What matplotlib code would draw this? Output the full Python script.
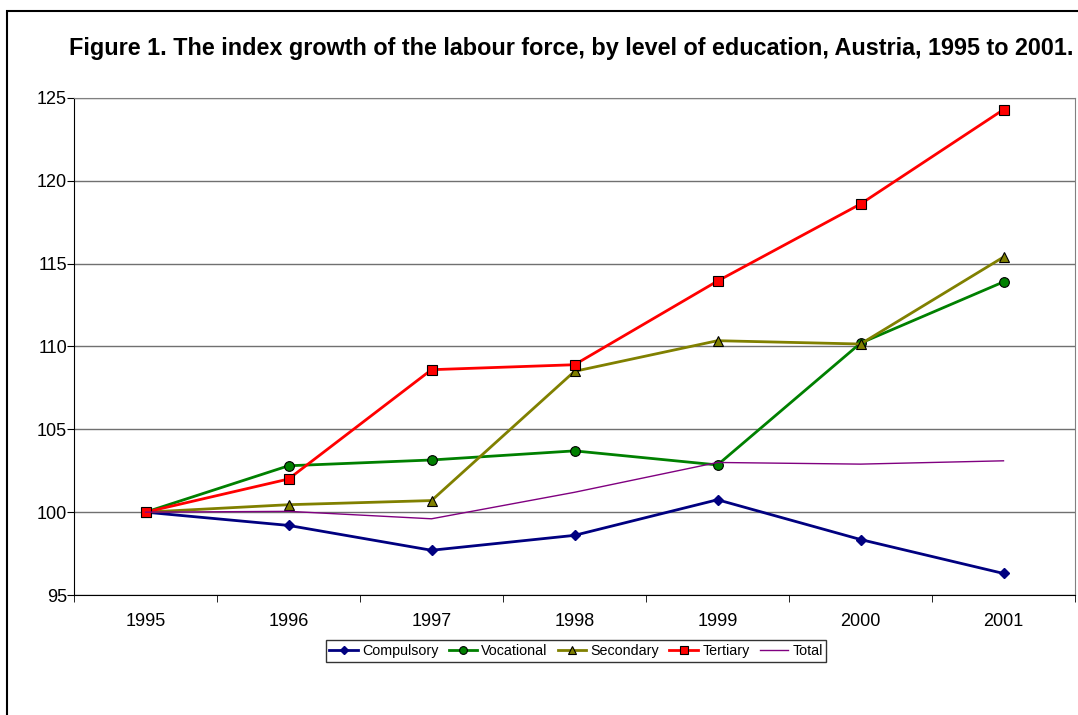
import numpy as np
import matplotlib.pyplot as plt
from matplotlib.patches import Rectangle

plt.rcParams['font.family'] = ['Liberation Sans', 'DejaVu Sans']

years = ['1995', '1996', '1997', '1998', '1999', '2000', '2001']
compulsory = [100.0, 99.2, 97.7, 98.6, 100.75, 98.35, 96.3]
vocational = [100.0, 102.8, 103.15, 103.7, 102.85, 110.2, 113.9]
secondary = [100.0, 100.45, 100.7, 108.5, 110.35, 110.15, 115.4]
tertiary = [100.0, 102.0, 108.6, 108.9, 113.95, 118.6, 124.3]
total = [100.0, 100.05, 99.6, 101.2, 103.0, 102.9, 103.1]

fig = plt.figure(figsize=(10.78, 7.15), dpi=100)
# outer chart frame
fig.add_artist(Rectangle((7 / 1078, -0.01), 1.1, 1 - 11 / 715 + 0.01,
                         transform=fig.transFigure, fill=False,
                         edgecolor='black', linewidth=1.5))

ax = fig.add_axes([74 / 1078, 1 - 595 / 715, 1001 / 1078, 497 / 715])
X = np.arange(len(years))

ax.plot(X, compulsory, color='#000080', lw=2, marker='D', ms=5,
        mfc='#000080', mec='#000080', label='Compulsory', zorder=3)
ax.plot(X, vocational, color='#008000', lw=2, marker='o', ms=7,
        mfc='#008000', mec='black', mew=0.8, label='Vocational', zorder=3)
ax.plot(X, secondary, color='#808000', lw=2, marker='^', ms=7,
        mfc='#808000', mec='black', mew=0.8, label='Secondary', zorder=3)
ax.plot(X, tertiary, color='#ff0000', lw=2, marker='s', ms=7,
        mfc='#ff0000', mec='black', mew=0.8, label='Tertiary', zorder=3)
ax.plot(X, total, color='#800080', lw=1, label='Total', zorder=3)

ax.set_xlim(-0.5, 6.5)
ax.set_ylim(95, 125)
ax.set_yticks(np.arange(95, 126, 5))
ax.set_xticks(X)
ax.set_xticklabels(years)
ax.set_xticks(np.arange(-0.5, 7, 1), minor=True)
ax.tick_params(axis='x', which='major', length=0, pad=13, labelsize=13)
ax.tick_params(axis='x', which='minor', length=5, direction='out', color='black')
ax.tick_params(axis='y', length=5, direction='out', labelsize=13, pad=0)
ax.grid(axis='y', color='#707070', lw=1)

ax.spines['top'].set_color('#808080')
ax.spines['right'].set_color('#808080')
ax.spines['left'].set_color('black')
ax.spines['bottom'].set_color('black')

fig.text(571 / 1078, 1 - 49 / 715,
         'Figure 1. The index growth of the labour force, by level of education, Austria, 1995 to 2001.',
         ha='center', va='center', fontsize=16.8, fontweight='bold')

leg = ax.legend(loc='center', bbox_to_anchor=(576 / 1078, 1 - 651 / 715),
                bbox_transform=fig.transFigure, ncol=5, fontsize=10.3,
                frameon=True, fancybox=False, edgecolor='black',
                handlelength=2.0, handletextpad=0.3, columnspacing=0.7,
                borderpad=0.25, markerscale=0.8)
leg.get_frame().set_linewidth(1)

plt.savefig('out.png', dpi=100)
